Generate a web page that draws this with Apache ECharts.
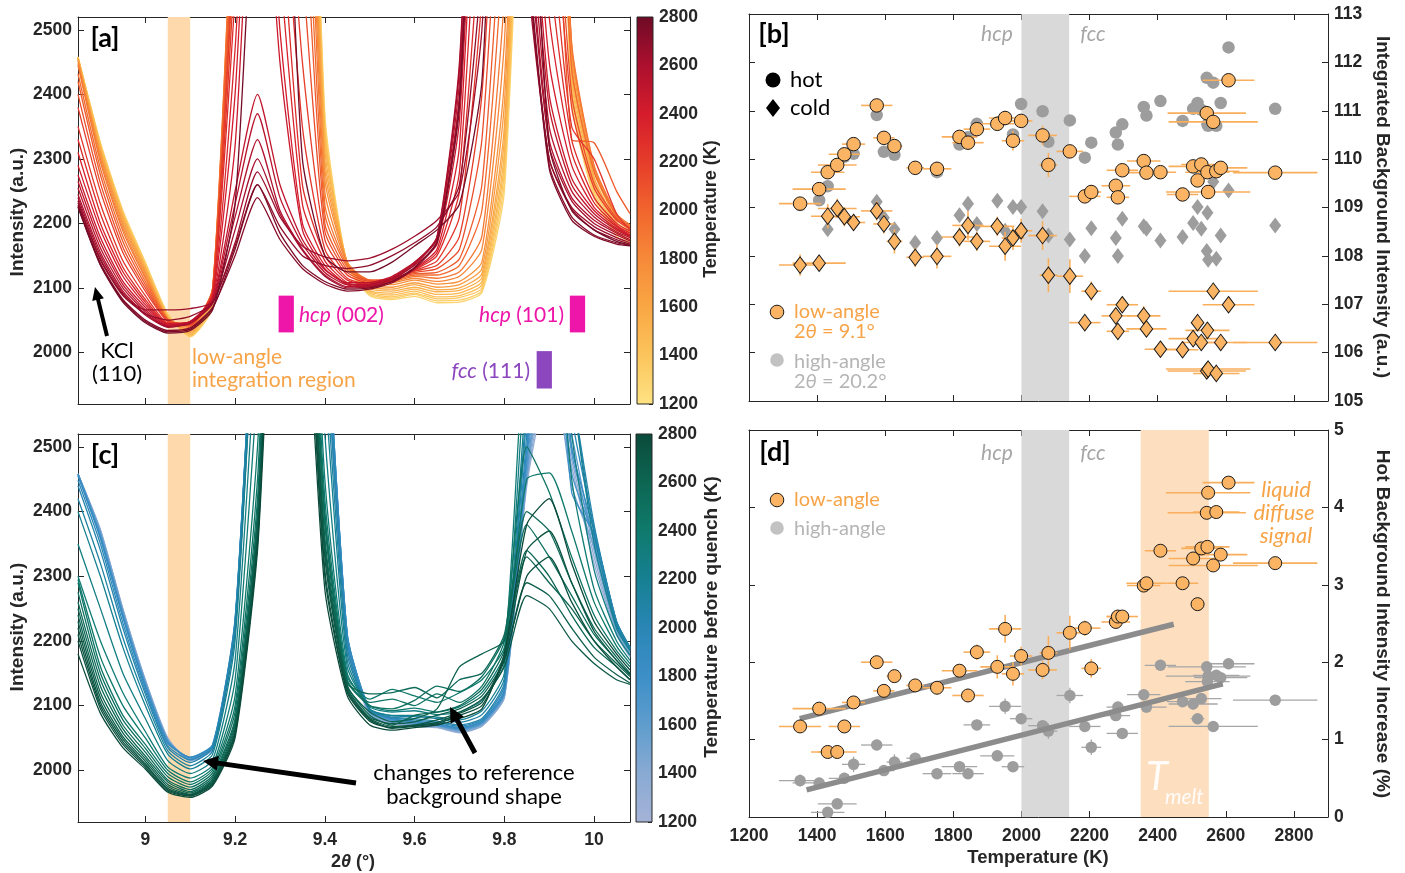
<!DOCTYPE html>
<html>
<head>
<meta charset="utf-8">
<script src="https://cdn.jsdelivr.net/npm/echarts/dist/echarts.min.js"></script>
<style>
  html, body { margin: 0; padding: 0; background: #fff; }
  #chart { width: 1405px; height: 873px; }
</style>
</head>
<body>
<div id="chart"></div>
<script>
// ---------------- data ----------------
// 2θ sampling grid (degrees) shared by every diffraction scan
const twoTheta = [8.85, 8.90, 8.95, 9.00, 9.05, 9.10, 9.15, 9.20, 9.25, 9.30, 9.35, 9.40, 9.45,
                  9.50, 9.55, 9.60, 9.65, 9.70, 9.75, 9.80, 9.85, 9.90, 9.95, 10.00, 10.05, 10.08];

// hot scans (panel a): temperature (K) and intensity on the grid
const hotTemps = [1300, 1350, 1400, 1450, 1500, 1550, 1600, 1680, 1750, 1820, 1900, 1980, 2050, 2120, 2200,
                  2250, 2300, 2350, 2400, 2450, 2500, 2540, 2580, 2620, 2650, 2690, 2720, 2750, 2780];
const hotScans = [
  [2458, 2325, 2220, 2140, 2060, 2024, 2070, 2640, 3400, 3600, 3400, 2370, 2135, 2088, 2082, 2087, 2077, 2078, 2093, 2250, 3000, 3300, 2390, 2240, 2180, 2168],
  [2458, 2324, 2218, 2138, 2059, 2025, 2072, 2650, 3400, 3600, 3380, 2360, 2136, 2090, 2084, 2090, 2080, 2081, 2096, 2265, 3020, 3300, 2400, 2245, 2184, 2171],
  [2458, 2322, 2216, 2136, 2058, 2026, 2075, 2660, 3400, 3600, 3350, 2350, 2135, 2092, 2086, 2092, 2083, 2085, 2100, 2280, 3050, 3300, 2410, 2250, 2188, 2174],
  [2457, 2320, 2214, 2134, 2056, 2027, 2078, 2680, 3400, 3600, 3320, 2340, 2137, 2094, 2089, 2095, 2086, 2088, 2105, 2295, 3080, 3300, 2420, 2256, 2192, 2177],
  [2457, 2318, 2212, 2132, 2055, 2028, 2080, 2700, 3400, 3600, 3300, 2330, 2138, 2096, 2092, 2098, 2090, 2092, 2110, 2310, 3100, 3300, 2430, 2262, 2195, 2180],
  [2456, 2315, 2209, 2130, 2054, 2030, 2084, 2720, 3400, 3600, 3280, 2315, 2139, 2099, 2095, 2101, 2094, 2096, 2116, 2330, 3120, 3300, 2440, 2267, 2198, 2183],
  [2456, 2312, 2206, 2128, 2053, 2031, 2088, 2740, 3400, 3600, 3250, 2300, 2140, 2102, 2098, 2105, 2097, 2100, 2122, 2350, 3150, 3300, 2450, 2272, 2202, 2186],
  [2454, 2308, 2202, 2125, 2052, 2033, 2092, 2760, 3400, 3550, 3200, 2285, 2140, 2105, 2101, 2108, 2101, 2105, 2130, 2385, 3170, 3300, 2460, 2280, 2206, 2189],
  [2452, 2305, 2198, 2122, 2052, 2035, 2095, 2780, 3400, 3500, 3150, 2270, 2140, 2108, 2105, 2112, 2106, 2110, 2140, 2420, 3200, 3300, 2470, 2285, 2210, 2192],
  [2448, 2300, 2193, 2118, 2052, 2038, 2098, 2790, 3400, 3450, 3080, 2250, 2138, 2110, 2108, 2115, 2110, 2118, 2160, 2480, 3250, 3250, 2475, 2288, 2212, 2195],
  [2445, 2295, 2188, 2115, 2052, 2040, 2100, 2800, 3400, 3400, 3000, 2230, 2135, 2112, 2110, 2118, 2115, 2125, 2180, 2550, 3300, 3200, 2480, 2290, 2215, 2198],
  [2432, 2285, 2180, 2110, 2051, 2041, 2099, 2760, 3350, 3300, 2870, 2215, 2132, 2112, 2112, 2120, 2120, 2135, 2220, 2650, 3300, 3100, 2440, 2280, 2212, 2196],
  [2420, 2275, 2172, 2105, 2050, 2042, 2098, 2720, 3300, 3200, 2750, 2200, 2128, 2112, 2114, 2122, 2124, 2145, 2260, 2750, 3300, 3000, 2330, 2325, 2250, 2215],
  [2400, 2262, 2163, 2100, 2049, 2043, 2096, 2680, 3250, 3050, 2600, 2188, 2124, 2110, 2114, 2124, 2130, 2160, 2330, 2880, 3300, 2900, 2400, 2262, 2208, 2193],
  [2380, 2250, 2155, 2095, 2048, 2044, 2095, 2650, 3200, 2900, 2450, 2175, 2120, 2108, 2115, 2126, 2135, 2180, 2400, 3000, 3300, 2800, 2380, 2255, 2205, 2192],
  [2350, 2230, 2142, 2088, 2046, 2045, 2092, 2600, 3150, 2800, 2350, 2160, 2115, 2106, 2113, 2127, 2142, 2210, 2550, 3150, 3200, 2700, 2350, 2300, 2215, 2190],
  [2330, 2215, 2132, 2082, 2045, 2046, 2090, 2550, 3100, 2700, 2260, 2150, 2112, 2105, 2112, 2128, 2150, 2250, 2700, 3300, 3100, 2600, 2330, 2240, 2200, 2188],
  [2310, 2200, 2125, 2078, 2044, 2047, 2088, 2470, 3050, 2600, 2230, 2142, 2108, 2102, 2111, 2129, 2155, 2280, 2850, 3350, 3000, 2520, 2310, 2232, 2197, 2185],
  [2290, 2190, 2118, 2074, 2044, 2048, 2086, 2400, 3000, 2500, 2200, 2135, 2105, 2100, 2110, 2130, 2160, 2320, 3000, 3400, 2900, 2450, 2290, 2225, 2195, 2182],
  [2275, 2178, 2110, 2070, 2043, 2048, 2084, 2320, 2900, 2450, 2190, 2130, 2106, 2104, 2114, 2135, 2168, 2360, 3050, 3400, 2850, 2400, 2270, 2220, 2192, 2181],
  [2265, 2170, 2105, 2066, 2042, 2048, 2082, 2250, 2400, 2260, 2175, 2128, 2108, 2108, 2118, 2140, 2175, 2400, 3100, 3400, 2800, 2380, 2260, 2215, 2190, 2180],
  [2255, 2162, 2100, 2063, 2041, 2047, 2080, 2230, 2370, 2240, 2168, 2124, 2105, 2106, 2116, 2139, 2178, 2420, 3150, 3350, 2750, 2350, 2250, 2210, 2187, 2178],
  [2245, 2155, 2095, 2060, 2040, 2046, 2078, 2210, 2330, 2220, 2160, 2120, 2102, 2104, 2115, 2138, 2180, 2450, 3200, 3300, 2700, 2330, 2240, 2205, 2185, 2175],
  [2240, 2150, 2092, 2058, 2039, 2045, 2076, 2190, 2300, 2215, 2158, 2118, 2100, 2102, 2113, 2136, 2178, 2440, 3200, 3300, 2680, 2320, 2235, 2200, 2182, 2173],
  [2235, 2145, 2090, 2066, 2066, 2068, 2078, 2170, 2280, 2210, 2165, 2148, 2142, 2146, 2160, 2180, 2205, 2250, 2500, 3200, 2600, 2300, 2225, 2195, 2178, 2170],
  [2232, 2143, 2088, 2060, 2050, 2056, 2076, 2165, 2260, 2195, 2150, 2135, 2130, 2135, 2150, 2170, 2195, 2260, 2600, 3250, 2620, 2300, 2222, 2190, 2175, 2168],
  [2228, 2138, 2082, 2050, 2034, 2038, 2070, 2150, 2240, 2175, 2130, 2106, 2095, 2098, 2108, 2130, 2170, 2380, 3100, 3300, 2650, 2290, 2210, 2182, 2170, 2166],
  [2226, 2136, 2080, 2048, 2032, 2036, 2068, 2160, 2260, 2185, 2135, 2110, 2098, 2100, 2110, 2132, 2172, 2390, 3150, 3300, 2640, 2285, 2205, 2180, 2168, 2165],
  [2225, 2135, 2078, 2046, 2030, 2034, 2066, 2230, 2800, 2900, 2300, 2150, 2125, 2125, 2140, 2165, 2190, 2230, 2420, 3100, 2900, 2320, 2220, 2190, 2172, 2166]
];

// quenched scans (panel c): temperature before quench (K) and intensity
const quenchTemps = [1300, 1350, 1450, 1520, 1600, 1680, 1750, 1820, 1900, 1980, 2050, 2120, 2200,
                     2280, 2350, 2400, 2450, 2500, 2550, 2580, 2620, 2660, 2700, 2730, 2760, 2800];
const quenchScans = [
  [2458, 2372, 2250, 2140, 2050, 2015, 2032, 2215, 2800, 3400, 3400, 2700, 2190, 2085, 2072, 2068, 2066, 2058, 2068, 2112, 2440, 2600, 2470, 2320, 2210, 2175],
  [2458, 2371, 2249, 2139, 2049, 2015, 2033, 2217, 2800, 3400, 3400, 2710, 2195, 2086, 2073, 2069, 2067, 2059, 2069, 2113, 2445, 2620, 2480, 2330, 2212, 2177],
  [2458, 2370, 2248, 2138, 2048, 2016, 2034, 2220, 2800, 3400, 3400, 2720, 2200, 2088, 2074, 2070, 2068, 2060, 2070, 2115, 2450, 2650, 2500, 2340, 2215, 2180],
  [2458, 2368, 2246, 2136, 2047, 2017, 2035, 2222, 2810, 3400, 3400, 2730, 2202, 2089, 2075, 2071, 2068, 2061, 2071, 2116, 2455, 2680, 2440, 2345, 2218, 2182],
  [2458, 2366, 2244, 2135, 2046, 2018, 2036, 2225, 2820, 3400, 3400, 2740, 2205, 2090, 2076, 2072, 2069, 2062, 2072, 2118, 2460, 2700, 2520, 2350, 2220, 2185],
  [2458, 2364, 2242, 2134, 2045, 2019, 2037, 2228, 2830, 3400, 3400, 2750, 2208, 2092, 2077, 2073, 2070, 2063, 2073, 2119, 2470, 2750, 2490, 2355, 2222, 2186],
  [2458, 2362, 2240, 2132, 2044, 2020, 2038, 2230, 2840, 3400, 3400, 2760, 2210, 2093, 2078, 2074, 2070, 2064, 2074, 2120, 2480, 2800, 2460, 2360, 2225, 2188],
  [2456, 2360, 2238, 2130, 2043, 2020, 2039, 2232, 2845, 3400, 3400, 2760, 2210, 2094, 2079, 2075, 2071, 2065, 2075, 2122, 2490, 2850, 2430, 2365, 2228, 2189],
  [2455, 2358, 2236, 2128, 2042, 2020, 2040, 2235, 2850, 3400, 3400, 2760, 2210, 2095, 2080, 2076, 2072, 2066, 2076, 2125, 2500, 2900, 2500, 2370, 2230, 2190],
  [2448, 2350, 2228, 2123, 2038, 2016, 2037, 2230, 2850, 3400, 3380, 2730, 2200, 2093, 2081, 2078, 2074, 2068, 2078, 2130, 2520, 2950, 2550, 2375, 2230, 2190],
  [2440, 2340, 2220, 2118, 2035, 2012, 2035, 2225, 2850, 3400, 3350, 2700, 2190, 2092, 2082, 2080, 2076, 2070, 2080, 2135, 2550, 3000, 2600, 2380, 2230, 2190],
  [2420, 2320, 2205, 2110, 2030, 2007, 2030, 2212, 2820, 3350, 3280, 2650, 2180, 2094, 2084, 2083, 2080, 2074, 2086, 2142, 2570, 3000, 2600, 2365, 2225, 2188],
  [2400, 2300, 2190, 2100, 2025, 2002, 2025, 2200, 2800, 3300, 3200, 2600, 2170, 2095, 2085, 2085, 2082, 2078, 2092, 2150, 2600, 3000, 2600, 2350, 2220, 2185],
  [2350, 2250, 2150, 2080, 2015, 1995, 2016, 2170, 2700, 3250, 3150, 2520, 2160, 2098, 2090, 2092, 2086, 2090, 2108, 2165, 2650, 2900, 2520, 2310, 2210, 2178],
  [2300, 2200, 2120, 2060, 2005, 1988, 2008, 2140, 2600, 3200, 3100, 2450, 2150, 2100, 2092, 2096, 2090, 2098, 2120, 2180, 2700, 2800, 2450, 2280, 2200, 2170],
  [2295, 2175, 2100, 2050, 2000, 1982, 2004, 2115, 2500, 3150, 3050, 2420, 2145, 2110, 2125, 2115, 2105, 2120, 2140, 2190, 2450, 2460, 2370, 2260, 2192, 2165],
  [2290, 2160, 2085, 2040, 1995, 1978, 2000, 2100, 2450, 3100, 3000, 2400, 2140, 2105, 2110, 2100, 2118, 2105, 2130, 2200, 2500, 2430, 2330, 2240, 2185, 2160],
  [2275, 2150, 2078, 2034, 1990, 1974, 1996, 2090, 2420, 3080, 2980, 2390, 2138, 2100, 2095, 2108, 2130, 2122, 2145, 2205, 2380, 2330, 2270, 2210, 2170, 2148],
  [2260, 2140, 2070, 2028, 1985, 1970, 1992, 2080, 2400, 3050, 2950, 2380, 2135, 2118, 2120, 2128, 2112, 2140, 2150, 2210, 2400, 2370, 2290, 2220, 2175, 2150],
  [2250, 2130, 2064, 2022, 1982, 1967, 1989, 2075, 2390, 3020, 2920, 2360, 2132, 2085, 2070, 2085, 2090, 2100, 2125, 2185, 2340, 2300, 2240, 2190, 2160, 2140],
  [2240, 2120, 2058, 2018, 1978, 1965, 1986, 2070, 2380, 3000, 2900, 2350, 2130, 2090, 2075, 2080, 2095, 2160, 2180, 2200, 2330, 2290, 2250, 2200, 2165, 2145],
  [2230, 2112, 2052, 2014, 1975, 1963, 1984, 2065, 2370, 3000, 2900, 2340, 2128, 2082, 2072, 2075, 2085, 2095, 2115, 2170, 2290, 2270, 2220, 2175, 2148, 2135],
  [2220, 2105, 2048, 2010, 1972, 1962, 1982, 2060, 2360, 3000, 2900, 2330, 2125, 2080, 2068, 2070, 2078, 2090, 2110, 2160, 2270, 2250, 2200, 2165, 2140, 2133],
  [2210, 2100, 2044, 2008, 1970, 1961, 1980, 2058, 2355, 2970, 2870, 2310, 2122, 2078, 2066, 2069, 2074, 2088, 2105, 2175, 2340, 2370, 2290, 2215, 2170, 2148],
  [2200, 2095, 2040, 2005, 1968, 1960, 1978, 2055, 2350, 2950, 2850, 2300, 2120, 2076, 2065, 2068, 2072, 2085, 2100, 2170, 2300, 2330, 2260, 2200, 2160, 2140],
  [2180, 2088, 2035, 2002, 1966, 1958, 1976, 2050, 2340, 2900, 2800, 2280, 2115, 2070, 2062, 2066, 2070, 2080, 2095, 2180, 2380, 2420, 2320, 2230, 2180, 2155]
];

// low-angle integration window (2θ, degrees)
const lowAngleWindow = [9.05, 9.10];
// reference peak positions (2θ, degrees)
const peakHcp002 = 9.314;
const peakHcp101 = 9.963;
const peakFcc111 = 9.889;

// per-measurement temperatures (K) and their uncertainties
const temps = [1350, 1406, 1431, 1459, 1480, 1507, 1575, 1596, 1627, 1688, 1752, 1818, 1843, 1869, 1929, 1952, 1975, 1999, 2062, 2079, 2142,
               2186, 2205, 2277, 2283, 2296, 2359, 2367, 2408, 2473, 2504, 2517, 2528, 2544, 2546, 2548, 2563, 2572, 2585, 2608, 2745];
const tempErr = [62, 78, 49, 57, 46, 34, 46, 31, 23, 26, 42, 52, 46, 39, 50, 47, 33, 33, 42, 26, 39,
                 46, 29, 42, 33, 46, 49, 59, 46, 46, 72, 20, 59, 115, 65, 124, 131, 68, 78, 76, 124];

// integrated background intensity (a.u.), panel b
const hotLow = [109.08, 109.38, 109.73, 109.88, 110.10, 110.31, 111.11, 110.44, 110.27, 109.82, 109.80, 110.46, 110.34, 110.62, 110.73, 110.85, 110.38, 110.79, 110.49, 109.88, 110.16,
                109.23, 109.32, 109.45, 109.21, 109.77, 109.96, 109.72, 109.73, 109.27, 109.85, 109.56, 109.89, 110.95, 109.73, 109.32, 110.77, 109.75, 109.82, 111.63, 109.72];
const hotLowErr = [0.08, 0.10, 0.10, 0.10, 0.10, 0.10, 0.10, 0.10, 0.10, 0.10, 0.10, 0.10, 0.10, 0.10, 0.15, 0.15, 0.20, 0.10, 0.20, 0.25, 0.10,
                   0.10, 0.15, 0.10, 0.10, 0.10, 0.10, 0.10, 0.10, 0.10, 0.10, 0.10, 0.10, 0.10, 0.10, 0.10, 0.10, 0.10, 0.10, 0.10, 0.10];
const hotHigh = [109.05, 109.15, 109.44, 109.90, 110.05, 110.11, 110.91, 110.15, 110.09, 109.82, 109.73, 110.30, 110.45, 110.73, 110.75, 110.85, 110.51, 111.14, 110.99, 110.36, 110.80,
                 110.03, 110.34, 110.55, 110.30, 110.72, 111.08, 110.90, 111.20, 110.79, 111.04, 111.16, 111.02, 111.68, 110.72, 110.69, 111.58, 110.69, 111.16, 112.31, 111.04];
const coldLow = [107.81, 107.85, 108.82, 108.98, 108.81, 108.69, 108.93, 108.66, 108.30, 107.97, 107.99, 108.39, 108.63, 108.30, 108.61, 108.20, 108.37, 108.52, 108.42, 107.60, 107.58,
                 106.62, 107.27, 106.76, 106.44, 106.99, 106.76, 106.49, 106.07, 106.06, 106.29, 106.62, 106.21, 105.62, 106.46, 105.66, 107.27, 105.57, 106.21, 106.99, 106.21];
const coldLowErr = [0.22, 0.12, 0.25, 0.20, 0.20, 0.15, 0.20, 0.20, 0.25, 0.20, 0.25, 0.20, 0.30, 0.20, 0.20, 0.30, 0.25, 0.25, 0.30, 0.35, 0.35,
                    0.15, 0.20, 0.15, 0.15, 0.15, 0.20, 0.15, 0.10, 0.10, 0.10, 0.10, 0.10, 0.10, 0.10, 0.10, 0.10, 0.10, 0.10, 0.10, 0.10];
const coldHigh = [107.80, 107.85, 108.55, 108.98, 108.80, 108.70, 109.12, 108.79, 108.55, 108.27, 108.37, 108.84, 109.08, 108.66, 109.14, 108.52, 109.01, 109.01, 108.92, 108.42, 108.34,
                  108.00, 108.57, 108.37, 108.00, 108.77, 108.61, 108.56, 108.32, 108.39, 108.68, 109.01, 108.56, 108.10, 108.89, 107.92, 109.53, 107.94, 108.42, 109.35, 108.63];

// hot background intensity increase (%), panel d
const incLow = [1.17, 1.40, 0.84, 0.84, 1.17, 1.48, 2.00, 1.63, 1.82, 1.70, 1.67, 1.89, 1.57, 2.13, 1.94, 2.43, 1.85, 2.08, 1.90, 2.12, 2.38,
                2.44, 1.92, 2.52, 2.59, 2.59, 2.99, 3.02, 3.44, 3.02, 3.34, 2.75, 3.47, 3.93, 3.49, 4.19, 3.25, 3.94, 3.39, 4.32, 3.28];
const incLowErr = [0.05, 0.05, 0.04, 0.04, 0.06, 0.06, 0.05, 0.06, 0.08, 0.06, 0.08, 0.08, 0.08, 0.10, 0.15, 0.18, 0.15, 0.12, 0.12, 0.22, 0.22,
                   0.10, 0.12, 0.06, 0.06, 0.06, 0.05, 0.05, 0.05, 0.05, 0.05, 0.04, 0.05, 0.04, 0.04, 0.04, 0.04, 0.04, 0.04, 0.04, 0.05];
const incHigh = [0.47, 0.44, 0.06, 0.17, 0.50, 0.68, 0.93, 0.60, 0.71, 0.76, 0.56, 0.65, 0.56, 1.19, 0.79, 1.43, 0.65, 1.27, 1.18, 1.11, 1.57,
                 1.17, 0.90, 1.31, 1.42, 1.08, 1.58, 1.42, 1.96, 1.49, 1.46, 1.27, 1.53, 1.94, 1.75, 1.82, 1.17, 1.83, 1.80, 1.98, 1.51];
const incHighErr = [0.08, 0.07, 0.07, 0.07, 0.07, 0.10, 0.07, 0.07, 0.10, 0.07, 0.07, 0.07, 0.07, 0.07, 0.07, 0.10, 0.07, 0.07, 0.07, 0.10, 0.10,
                    0.07, 0.10, 0.07, 0.07, 0.07, 0.07, 0.07, 0.07, 0.07, 0.07, 0.07, 0.07, 0.07, 0.07, 0.07, 0.07, 0.07, 0.07, 0.07, 0.07];

// linear trends through the increase data
const fitLow = [[1349, 1.27], [2447, 2.49]];
const fitHigh = [[1369, 0.35], [2591, 1.72]];

// phase ranges (K)
const hcpFccRange = [2000, 2140];
const meltRange = [2350, 2550];

// tick values
const thetaTicks = [9, 9.2, 9.4, 9.6, 9.8, 10];
const intensityTicks = [2000, 2100, 2200, 2300, 2400, 2500];
const colorbarTicks = [1200, 1400, 1600, 1800, 2000, 2200, 2400, 2600, 2800];
const tempTicks = [1200, 1400, 1600, 1800, 2000, 2200, 2400, 2600, 2800];
const bgTicks = [105, 106, 107, 108, 109, 110, 111, 112, 113];
const incTicks = [0, 1, 2, 3, 4, 5];

// ---------------- styling ----------------
const AX = '#262626';
const TICK_FONT = '"Liberation Sans", Arial, sans-serif';
const ANNO_FONT = 'Lato, "Open Sans", sans-serif';
const ORANGE_TXT = '#f7a448';
const ORANGE_FILL = '#fbb464';
const ORANGE_BAR = '#f9ae5c';
const GREY_FILL = '#9d9d9d';
const GREY_BAR = '#a6a6a6';
const MAGENTA = '#ee15a9';
const PURPLE = '#8c46be';

const hotColormap = [[1200, '#fee383'], [1400, '#fcc55c'], [1600, '#f9a744'], [1800, '#f68a39'], [2000, '#f1652d'],
                     [2200, '#e63d2a'], [2400, '#d41c2c'], [2600, '#ac102e'], [2800, '#6e0a26']];
const coldColormap = [[1200, '#a5b3d7'], [1400, '#89aad3'], [1600, '#5f9dcd'], [1800, '#3d8fc8'], [2000, '#2a86b5'],
                      [2200, '#168093'], [2400, '#0f7a6c'], [2600, '#0d6652'], [2800, '#0b4a3a']];

function hexToRgb(h) { return [parseInt(h.slice(1, 3), 16), parseInt(h.slice(3, 5), 16), parseInt(h.slice(5, 7), 16)]; }
function mapColor(cmap, t) {
  if (t <= cmap[0][0]) return cmap[0][1];
  for (let i = 1; i < cmap.length; i++) {
    if (t <= cmap[i][0]) {
      const f = (t - cmap[i - 1][0]) / (cmap[i][0] - cmap[i - 1][0]);
      const a = hexToRgb(cmap[i - 1][1]), b = hexToRgb(cmap[i][1]);
      const c = a.map((v, k) => Math.round(v + (b[k] - v) * f));
      return 'rgb(' + c.join(',') + ')';
    }
  }
  return cmap[cmap.length - 1][1];
}
function gradientFor(cmap) {
  const lo = cmap[0][0], hi = cmap[cmap.length - 1][0];
  return new echarts.graphic.LinearGradient(0, 1, 0, 0,
    cmap.map(s => ({ offset: (s[0] - lo) / (hi - lo), color: s[1] })));
}

function valAxis(gridIndex, position, min, max, ticks, showLabels, margin) {
  return {
    type: 'value', gridIndex, position, min, max,
    axisLine: { show: true, onZero: false, lineStyle: { color: AX, width: 1 } },
    axisTick: { show: true, inside: true, length: 6, customValues: ticks, lineStyle: { color: AX, width: 1 } },
    axisLabel: { show: showLabels, customValues: ticks, margin: margin || 6, color: AX,
                 fontFamily: TICK_FONT, fontWeight: 'bold', fontSize: 17.5, formatter: v => String(v) },
    splitLine: { show: false }
  };
}
function hiddenAxis(gridIndex, position) {
  return { type: 'value', gridIndex, position, min: 0, max: 1, show: false };
}

// ---------------- layout ----------------
const grids = [
  { left: 78, top: 17, width: 552, height: 387 },    // 0 panel a
  { left: 637, top: 17, width: 16, height: 387 },    // 1 colorbar a
  { left: 78, top: 434, width: 552, height: 388 },   // 2 panel c
  { left: 636, top: 434, width: 16, height: 388 },   // 3 colorbar c
  { left: 749, top: 14, width: 579, height: 387 },   // 4 panel b
  { left: 749, top: 430, width: 579, height: 387 }   // 5 panel d
];

const xAxes = [
  valAxis(0, 'bottom', 8.85, 10.08, thetaTicks, false),     // 0
  valAxis(0, 'top', 8.85, 10.08, thetaTicks, false),        // 1
  hiddenAxis(1, 'bottom'),                                  // 2
  valAxis(2, 'bottom', 8.85, 10.08, thetaTicks, true, 9),   // 3
  valAxis(2, 'top', 8.85, 10.08, thetaTicks, false),        // 4
  hiddenAxis(3, 'bottom'),                                  // 5
  valAxis(4, 'bottom', 1200, 2900, tempTicks, false),       // 6
  valAxis(4, 'top', 1200, 2900, tempTicks, false),          // 7
  valAxis(5, 'bottom', 1200, 2900, tempTicks, true, 10),    // 8
  valAxis(5, 'top', 1200, 2900, tempTicks, false)           // 9
];
function cbarAxis(gridIndex) {
  const a = valAxis(gridIndex, 'right', 1200, 2800, colorbarTicks, true, 6);
  a.axisLine.show = false;
  a.axisTick.length = 4;
  return a;
}
const yAxes = [
  valAxis(0, 'left', 1920, 2520, intensityTicks, true, 6),  // 0
  valAxis(0, 'right', 1920, 2520, intensityTicks, false),   // 1
  cbarAxis(1),                                              // 2
  valAxis(2, 'left', 1920, 2520, intensityTicks, true, 6),  // 3
  valAxis(2, 'right', 1920, 2520, intensityTicks, false),   // 4
  cbarAxis(3),                                              // 5
  valAxis(4, 'left', 105, 113, bgTicks, false),             // 6
  valAxis(4, 'right', 105, 113, bgTicks, true, 6),          // 7
  valAxis(5, 'left', 0, 5, incTicks, false),                // 8
  valAxis(5, 'right', 0, 5, incTicks, true, 6)              // 9
];

// ---------------- series ----------------
const series = [];

function bandSeries(xi, yi, range, color, z) {
  return { type: 'line', xAxisIndex: xi, yAxisIndex: yi, data: [], z, silent: true,
           markArea: { silent: true, itemStyle: { color }, data: [[{ xAxis: range[0] }, { xAxis: range[1] }]] } };
}
function scanSeries(xi, yi, temps, scans, cmap) {
  temps.forEach((t, k) => {
    series.push({
      type: 'line', xAxisIndex: xi, yAxisIndex: yi, silent: true, clip: true,
      showSymbol: false, symbol: 'none', smooth: 0.2, z: 3,
      lineStyle: { width: 1.3, color: mapColor(cmap, t) },
      data: twoTheta.map((x, j) => [x, scans[k][j]])
    });
  });
}
function colorbarSeries(xi, yi, cmap) {
  return {
    type: 'custom', xAxisIndex: xi, yAxisIndex: yi, silent: true, z: 3,
    data: [[0, colorbarTicks[0]]],
    renderItem: (params, api) => {
      const p0 = api.coord([0, colorbarTicks[colorbarTicks.length - 1]]);
      const p1 = api.coord([1, colorbarTicks[0]]);
      return { type: 'rect', shape: { x: p0[0], y: p0[1], width: p1[0] - p0[0], height: p1[1] - p0[1] },
               style: { fill: gradientFor(cmap), stroke: AX, lineWidth: 1 } };
    }
  };
}
function peakBar(xi, yi, pos, yLo, yHi, color) {
  const half = 0.017;
  return { type: 'line', xAxisIndex: xi, yAxisIndex: yi, data: [], z: 4, silent: true,
           markArea: { silent: true, itemStyle: { color },
                       data: [[{ xAxis: pos - half, yAxis: yLo }, { xAxis: pos + half, yAxis: yHi }]] } };
}
function errorBars(xi, yi, xs, xe, ys, ye, color, width, z) {
  return {
    type: 'custom', xAxisIndex: xi, yAxisIndex: yi, silent: true, clip: true, z,
    encode: { x: 0, y: 1 },
    data: xs.map((x, i) => [x, ys[i], xe[i], ye[i]]),
    renderItem: (params, api) => {
      const x = api.value(0), y = api.value(1), ex = api.value(2), ey = api.value(3);
      const l = api.coord([x - ex, y]), r = api.coord([x + ex, y]);
      const t = api.coord([x, y + ey]), b = api.coord([x, y - ey]);
      return { type: 'group', children: [
        { type: 'line', shape: { x1: l[0], y1: l[1], x2: r[0], y2: r[1] }, style: { stroke: color, lineWidth: width } },
        { type: 'line', shape: { x1: t[0], y1: t[1], x2: b[0], y2: b[1] }, style: { stroke: color, lineWidth: width } }
      ] };
    }
  };
}
function points(xi, yi, xs, ys, symbol, size, fill, border, z) {
  return {
    type: 'scatter', xAxisIndex: xi, yAxisIndex: yi, silent: true, z, symbol, symbolSize: size,
    itemStyle: { color: fill, borderColor: border || fill, borderWidth: border ? 1 : 0, opacity: 1 },
    data: xs.map((x, i) => [x, ys[i]])
  };
}

// panel a
series.push(bandSeries(0, 0, lowAngleWindow, '#fdd9ac', 1));
scanSeries(0, 0, hotTemps, hotScans, hotColormap);
series.push(peakBar(0, 0, peakHcp002, 2031, 2088, MAGENTA));
series.push(peakBar(0, 0, peakHcp101, 2031, 2088, MAGENTA));
series.push(peakBar(0, 0, peakFcc111, 1944, 2002, PURPLE));
series.push(colorbarSeries(2, 2, hotColormap));

// panel c
series.push(bandSeries(3, 3, lowAngleWindow, '#fdd9ac', 1));
scanSeries(3, 3, quenchTemps, quenchScans, coldColormap);
series.push(colorbarSeries(5, 5, coldColormap));

// panel b
series.push(bandSeries(6, 6, hcpFccRange, '#d9d9d9', 1));
series.push(points(6, 6, temps, hotHigh, 'circle', 12.5, GREY_FILL, null, 2));
series.push(points(6, 6, temps, coldHigh, 'diamond', [12, 16], GREY_FILL, null, 2));
series.push(errorBars(6, 6, temps, tempErr, hotLow, hotLowErr, ORANGE_BAR, 1.6, 3));
series.push(errorBars(6, 6, temps, tempErr, coldLow, coldLowErr, ORANGE_BAR, 1.6, 3));
series.push(points(6, 6, temps, hotLow, 'circle', 13.5, ORANGE_FILL, '#1a1a1a', 4));
series.push(points(6, 6, temps, coldLow, 'diamond', [12.5, 16.5], ORANGE_FILL, '#1a1a1a', 4));

// panel d
series.push(bandSeries(8, 8, hcpFccRange, '#d9d9d9', 1));
series.push(bandSeries(8, 8, meltRange, '#fddfc0', 1));
series.push(errorBars(8, 8, temps, tempErr, incHigh, incHighErr, GREY_BAR, 1.3, 2));
series.push(points(8, 8, temps, incHigh, 'circle', 11.5, GREY_FILL, null, 3));
[fitLow, fitHigh].forEach(f => series.push({
  type: 'line', xAxisIndex: 8, yAxisIndex: 8, silent: true, z: 4, showSymbol: false, symbol: 'none',
  lineStyle: { width: 5.5, color: '#8c8c8c', cap: 'butt' }, data: f
}));
series.push(errorBars(8, 8, temps, tempErr, incLow, incLowErr, ORANGE_BAR, 1.6, 5));
series.push(points(8, 8, temps, incLow, 'circle', 13, ORANGE_FILL, '#1a1a1a', 6));

// ---------------- annotations ----------------
function text(x, y, str, o) {
  o = o || {};
  return {
    type: 'text', x, y, z: 100, silent: true, rotation: o.rotation || 0,
    style: {
      text: str, fill: o.fill || '#000', align: o.align || 'left', verticalAlign: 'middle',
      fontFamily: o.family || ANNO_FONT, fontSize: o.size || 21, fontWeight: o.weight || 'normal',
      fontStyle: o.style || 'normal', opacity: o.opacity == null ? 1 : o.opacity, rich: o.rich
    }
  };
}
function arrow(x1, y1, x2, y2, w, hl, hw) {
  const dx = x2 - x1, dy = y2 - y1, L = Math.hypot(dx, dy), ux = dx / L, uy = dy / L, px = -uy, py = ux;
  const bx = x2 - ux * hl, by = y2 - uy * hl;
  const pts = [[x1 + px * w / 2, y1 + py * w / 2], [bx + px * w / 2, by + py * w / 2], [bx + px * hw / 2, by + py * hw / 2],
               [x2, y2], [bx - px * hw / 2, by - py * hw / 2], [bx - px * w / 2, by - py * w / 2], [x1 - px * w / 2, y1 - py * w / 2]];
  return { type: 'polygon', z: 100, silent: true, shape: { points: pts }, style: { fill: '#000' } };
}
function richItalic(size, color) {
  return {
    i: { fontFamily: ANNO_FONT, fontSize: size, fontStyle: 'italic', fill: color },
    n: { fontFamily: ANNO_FONT, fontSize: size, fill: color }
  };
}
const titleOpts = { family: TICK_FONT, weight: 'bold', size: 19, fill: AX, align: 'center' };
function title(x, y, str, rot, size, extra) {
  return text(x, y, str, Object.assign({}, titleOpts, { rotation: rot, size: size || 19 }, extra || {}));
}

const graphics = [
  // panel labels
  text(105, 38, '[a]', { size: 27, weight: 'bold', align: 'center' }),
  text(105, 455, '[c]', { size: 27, weight: 'bold', align: 'center' }),
  text(774, 34, '[b]', { size: 27, weight: 'bold', align: 'center' }),
  text(775, 452, '[d]', { size: 27, weight: 'bold', align: 'center' }),

  // axis titles
  title(18, 212, 'Intensity (a.u.)', Math.PI / 2),
  title(18, 627, 'Intensity (a.u.)', Math.PI / 2),
  title(711, 209, 'Temperature (K)', Math.PI / 2, 18),
  title(712, 617, 'Temperature before quench (K)', Math.PI / 2),
  title(1382, 207, 'Integrated Background Intensity (a.u.)', -Math.PI / 2),
  title(1382, 624, 'Hot Background Intensity Increase (%)', -Math.PI / 2),
  title(1038, 858, 'Temperature (K)', 0, 18.5),
  title(353, 862, '2{t|θ} (°)', 0, 18, {
    rich: { t: { fontFamily: TICK_FONT, fontSize: 18, fontWeight: 'bold', fontStyle: 'italic', fill: AX } } }),

  // panel a annotations
  text(117, 351, 'KCl', { size: 22, align: 'center' }),
  text(117, 374, '(110)', { size: 22, align: 'center' }),
  arrow(107, 336, 95, 287, 4, 13, 12),
  text(192, 357, 'low-angle', { size: 21, fill: ORANGE_TXT }),
  text(192, 380, 'integration region', { size: 21, fill: ORANGE_TXT }),
  text(299, 315, '{i|hcp}{n| (002)}', { size: 21, fill: MAGENTA, rich: richItalic(21, MAGENTA) }),
  text(564, 315, '{i|hcp}{n| (101)}', { size: 21, fill: MAGENTA, align: 'right', rich: richItalic(21, MAGENTA) }),
  text(530, 371, '{i|fcc}{n| (111)}', { size: 21, fill: PURPLE, align: 'right', rich: richItalic(21, PURPLE) }),

  // panel c annotations
  arrow(356, 783, 203, 761, 5, 15, 15),
  arrow(475, 753, 450, 707, 5, 15, 15),
  text(474, 773, 'changes to reference', { size: 22, align: 'center' }),
  text(474, 797, 'background shape', { size: 22, align: 'center' }),

  // panel b annotations and legend
  text(997, 34, 'hcp', { size: 21, fill: '#a6a6a6', style: 'italic', align: 'center' }),
  text(1093, 34, 'fcc', { size: 21, fill: '#a6a6a6', style: 'italic', align: 'center' }),
  { type: 'circle', z: 100, silent: true, shape: { cx: 773, cy: 80, r: 7.5 }, style: { fill: '#000' } },
  { type: 'polygon', z: 100, silent: true, shape: { points: [[773, 99], [780, 108], [773, 117], [766, 108]] }, style: { fill: '#000' } },
  text(790, 80, 'hot', { size: 22 }),
  text(790, 108, 'cold', { size: 22 }),
  { type: 'circle', z: 100, silent: true, shape: { cx: 777, cy: 312, r: 6.8 }, style: { fill: ORANGE_FILL, stroke: '#1a1a1a', lineWidth: 1 } },
  text(794, 312, 'low-angle', { size: 20, fill: ORANGE_TXT }),
  text(794, 332, '2{i|θ} = 9.1°', { size: 20, fill: ORANGE_TXT, rich: { i: { fontFamily: ANNO_FONT, fontSize: 20, fontStyle: 'italic', fill: ORANGE_TXT } } }),
  { type: 'circle', z: 100, silent: true, shape: { cx: 777, cy: 360, r: 6.8 }, style: { fill: '#c2c2c2' } },
  text(794, 362, 'high-angle', { size: 20, fill: '#b5b5b5' }),
  text(794, 382, '2{i|θ} = 20.2°', { size: 20, fill: '#b5b5b5', rich: { i: { fontFamily: ANNO_FONT, fontSize: 20, fontStyle: 'italic', fill: '#b5b5b5' } } }),

  // panel d annotations and legend
  text(997, 453, 'hcp', { size: 21, fill: '#a6a6a6', style: 'italic', align: 'center' }),
  text(1093, 453, 'fcc', { size: 21, fill: '#a6a6a6', style: 'italic', align: 'center' }),
  { type: 'circle', z: 100, silent: true, shape: { cx: 777, cy: 500, r: 6.8 }, style: { fill: ORANGE_FILL, stroke: '#1a1a1a', lineWidth: 1 } },
  text(794, 500, 'low-angle', { size: 20, fill: ORANGE_TXT }),
  { type: 'circle', z: 100, silent: true, shape: { cx: 777, cy: 528, r: 6.8 }, style: { fill: '#c2c2c2' } },
  text(794, 529, 'high-angle', { size: 20, fill: '#b5b5b5' }),
  text(1286, 490, 'liquid', { size: 22, fill: ORANGE_TXT, style: 'italic', align: 'center' }),
  text(1284, 513, 'diffuse', { size: 22, fill: ORANGE_TXT, style: 'italic', align: 'center' }),
  text(1286, 536, 'signal', { size: 22, fill: ORANGE_TXT, style: 'italic', align: 'center' }),
  text(1146, 777, 'T', { size: 40, fill: '#ffffff', style: 'italic', opacity: 0.9 }),
  text(1165, 797, 'melt', { size: 21, fill: '#ffffff', style: 'italic', opacity: 0.9 })
];

const chart = echarts.init(document.getElementById('chart'), null, { renderer: 'canvas', width: 1405, height: 873 });
chart.setOption({
  backgroundColor: '#ffffff',
  animation: false,
  grid: grids,
  xAxis: xAxes,
  yAxis: yAxes,
  series,
  graphic: graphics
});
</script>
</body>
</html>
